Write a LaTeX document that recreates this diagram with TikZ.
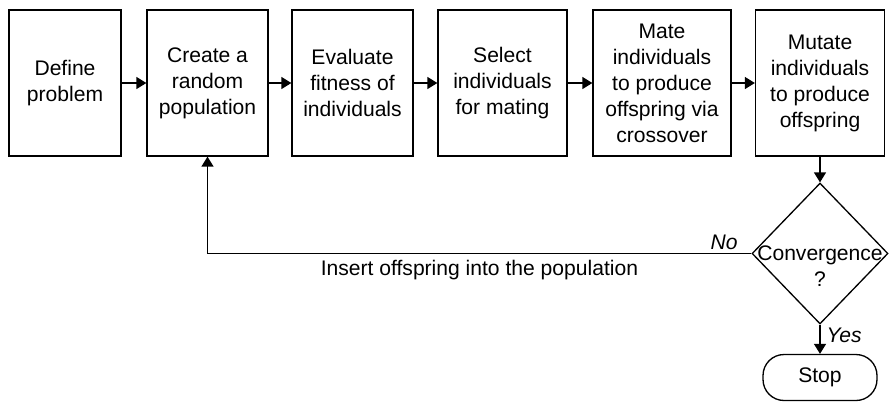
\documentclass[tikz,border=0pt]{standalone}
\usepackage{fontspec}
\setmainfont{Liberation Sans}
\usetikzlibrary{arrows.meta,shapes.geometric}

\begin{document}
\begin{tikzpicture}[x=0.02cm,y=-0.02cm,line width=0.75pt,
    >={Triangle[length=2mm,width=2.4mm]},
    every node/.style={font=\fontsize{12}{14.8}\selectfont,align=center}]

  \useasboundingbox (0,0) rectangle (889,403);

  % the six steps of the loop
  \begin{scope}[every node/.append style={draw,minimum height=2.92cm,inner sep=1pt}]
    \node[minimum width=2.24cm] (define) at (65,83)    {Define\\problem};
    \node[minimum width=2.42cm] (create) at (207.5,83) {Create a\\random\\population};
    \node[minimum width=2.42cm] (eval)   at (352.5,83) {Evaluate\\fitness of\\individuals};
    \node[minimum width=2.58cm] (select) at (502.5,83) {Select\\individuals\\for mating};
    \node[minimum width=2.76cm] (mate)   at (662,83)   {Mate\\individuals\\to produce\\offspring via\\crossover};
    \node[minimum width=2.58cm] (mutate) at (820,83)   {Mutate\\individuals\\to produce\\offspring};
  \end{scope}

  % test and end
  \node[diamond,draw,minimum width=2.72cm,minimum height=2.82cm,inner sep=0pt] (conv) at (820,253.5) {};
  \node (convtext) at (820,266) {Convergence\\?};
  \node[draw,rounded corners=0.42cm,minimum width=2.28cm,minimum height=0.92cm] (stop) at (820,377.5) {Stop};

  \begin{scope}[every edge/.style={draw,->}]
    \path (define) edge (create);
    \path (create) edge (eval);
    \path (eval)   edge (select);
    \path (select) edge (mate);
    \path (mate)   edge (mutate);
    \path (mutate) edge (conv);
    \path (conv.south) edge node[right,pos=0.35,font=\fontsize{12}{14.8}\selectfont\itshape] {Yes} (stop);
  \end{scope}

  \draw[->] (conv.west)
    -- node[above,pos=0.05,inner sep=2pt,font=\fontsize{12}{14.8}\selectfont\itshape] {No}
       node[below] {Insert offspring into the population}
       (create |- conv.west)
    -- (create);

\end{tikzpicture}
\end{document}
